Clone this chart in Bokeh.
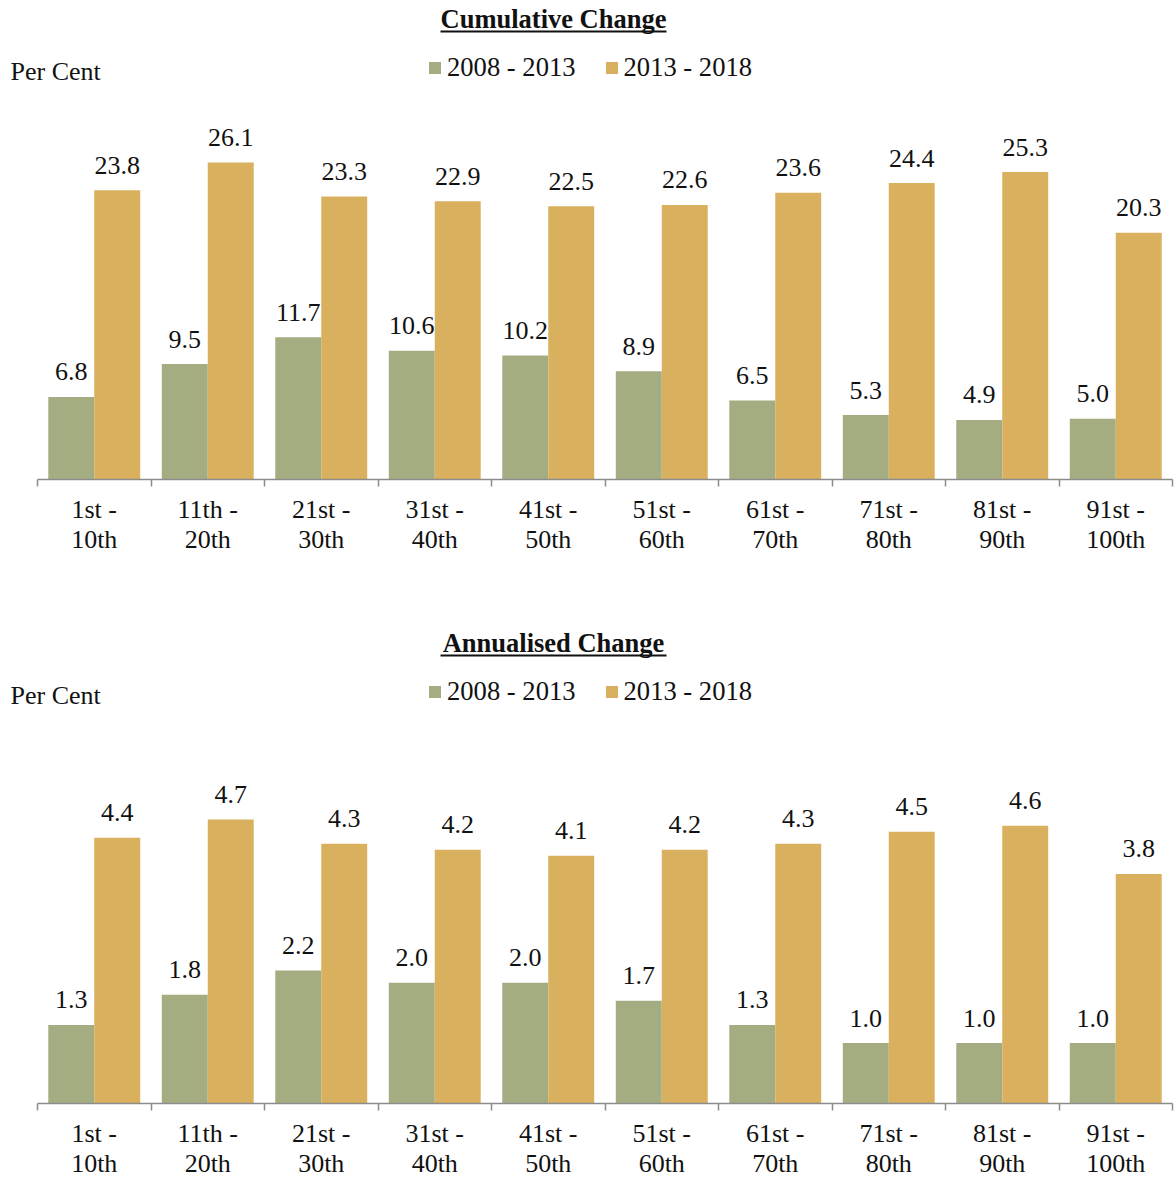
import numpy as np
from bokeh.plotting import figure
from bokeh.layouts import column
from bokeh.models import (Range1d, FixedTicker, CustomJSTickFormatter, Label,
                          BoxAnnotation, Legend, LegendItem, ColumnDataSource)
from bokeh.core.properties import value
from bokeh.embed import file_html
from bokeh.resources import INLINE

categories = ["1st -\n10th", "11th -\n20th", "21st -\n30th", "31st -\n40th", "41st -\n50th",
              "51st -\n60th", "61st -\n70th", "71st -\n80th", "81st -\n90th", "91st -\n100th"]
series_names = ["2008 - 2013", "2013 - 2018"]
cumulative_2008_2013 = [6.8, 9.5, 11.7, 10.6, 10.2, 8.9, 6.5, 5.3, 4.9, 5.0]
cumulative_2013_2018 = [23.8, 26.1, 23.3, 22.9, 22.5, 22.6, 23.6, 24.4, 25.3, 20.3]
annualised_2008_2013 = [1.3, 1.8, 2.2, 2.0, 2.0, 1.7, 1.3, 1.0, 1.0, 1.0]
annualised_2013_2018 = [4.4, 4.7, 4.3, 4.2, 4.1, 4.2, 4.3, 4.5, 4.6, 3.8]

GREEN = "#A4AC82"
GOLD = "#D9B15E"
INK = "#111111"
FONT = "Liberation Serif"
W = 1174
F = 479          # frame height (px)
BAR_W = 0.405


def make_chart(title, s1, s2, px_per_unit, height, border_bottom):
    n = len(categories)
    centers = np.arange(n) + 0.5
    src = ColumnDataSource(dict(
        x1=centers - BAR_W / 2, x2=centers + BAR_W / 2,
        v1=s1, v2=s2,
        t1=[f"{v:.1f}" for v in s1], t2=[f"{v:.1f}" for v in s2],
    ))
    p = figure(width=W, height=height, x_range=Range1d(-0.326, 10.0176),
               y_range=Range1d(0, F / px_per_unit), toolbar_location=None,
               output_backend="svg", y_axis_location=None,
               min_border_left=0, min_border_right=0, min_border_top=0,
               min_border_bottom=border_bottom)
    p.outline_line_color = None
    p.xgrid.visible = False
    p.ygrid.visible = False

    r1 = p.vbar(x="x1", top="v1", width=BAR_W, source=src, fill_color=GREEN,
                line_color=None)
    r2 = p.vbar(x="x2", top="v2", width=BAR_W, source=src, fill_color=GOLD,
                line_color=None)
    for xcol, ycol, tcol in (("x1", "v1", "t1"), ("x2", "v2", "t2")):
        p.text(x=xcol, y=ycol, text=tcol, source=src, text_align="center",
               text_baseline="alphabetic", y_offset=-25,
               text_font=value(FONT), text_font_size="26px", text_color=INK)

    ax = p.xaxis[0]
    ax.ticker = FixedTicker(ticks=list(centers), minor_ticks=list(np.arange(n + 1)))
    ax.formatter = CustomJSTickFormatter(
        args=dict(labels=categories),
        code="const i = Math.floor(tick); return (i >= 0 && i < labels.length) ? labels[i] : '';")
    ax.bounds = (0, n)
    ax.axis_line_color = "#8c8c8c"
    ax.axis_line_width = 1.5
    ax.major_tick_out = 0
    ax.major_tick_in = 0
    ax.minor_tick_out = 7
    ax.minor_tick_in = 0
    ax.minor_tick_line_color = "#8c8c8c"
    ax.minor_tick_line_width = 1.5
    ax.major_label_text_font = FONT
    ax.major_label_text_font_size = "26px"
    ax.major_label_text_color = INK
    ax.major_label_text_line_height = 1.05
    ax.major_label_standoff = 8

    p.add_layout(Label(x=553, y=F - 18, x_units="screen", y_units="screen",
                       text=title, text_align="center", text_baseline="middle",
                       text_font=FONT, text_font_size="26.5px", text_font_style="bold",
                       text_color=INK))
    p.add_layout(BoxAnnotation(left=440, right=666, top=F - 30, bottom=F - 32,
                               left_units="screen", right_units="screen",
                               top_units="screen", bottom_units="screen",
                               fill_color=INK, fill_alpha=1.0, line_color=None))
    p.add_layout(Label(x=10, y=F - 71, x_units="screen", y_units="screen",
                       text="Per Cent", text_align="left", text_baseline="middle",
                       text_font=FONT, text_font_size="26px", text_color=INK))

    legend = Legend(items=[LegendItem(label=series_names[0], renderers=[r1]),
                           LegendItem(label=series_names[1], renderers=[r2])],
                    location=(427, F - 83), orientation="horizontal",
                    glyph_width=15, glyph_height=15, label_standoff=5, spacing=28,
                    padding=0, margin=0, border_line_color=None,
                    background_fill_alpha=0, label_text_font=FONT,
                    label_text_font_size="26.6px", label_text_color=INK,
                    label_height=26)
    p.add_layout(legend, "center")
    return p


p1 = make_chart("Cumulative Change", cumulative_2008_2013, cumulative_2013_2018,
                12.15, 624, 145)
p2 = make_chart("Annualised Change", annualised_2008_2013, annualised_2013_2018,
                60.4, 556, 77)
layout = column(p1, p2, spacing=0)
open("out.html", "w").write(file_html(layout, INLINE))
